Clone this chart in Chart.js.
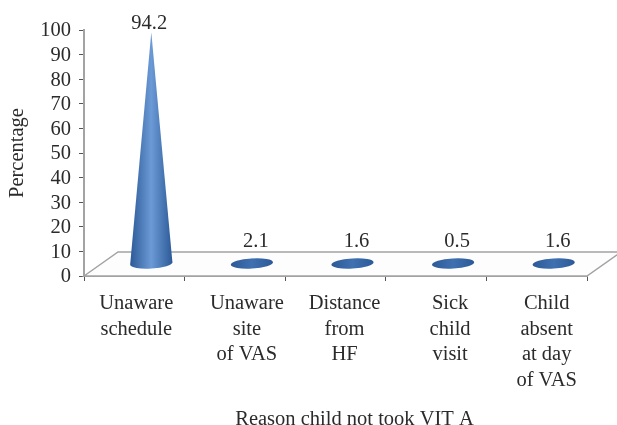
<!DOCTYPE html>
<html>
<head>
<meta charset="utf-8">
<style>
  html, body { margin: 0; padding: 0; background: #fff; }
  canvas { display: block; }
</style>
<script src="https://cdn.jsdelivr.net/npm/chart.js@4"></script>
</head>
<body>
<canvas id="grafico" width="617" height="425"></canvas>
<script>
const categorias = [
  ["Unaware", "schedule"],
  ["Unaware", "site", "of VAS"],
  ["Distance", "from", "HF"],
  ["Sick", "child", "visit"],
  ["Child", "absent", "at day", "of VAS"]
]
const valores = [94.2, 2.1, 1.6, 0.5, 1.6]
const rotulos = ["94.2", "2.1", "1.6", "0.5", "1.6"]

const fonte = "'Liberation Serif', serif"
const tamanho = 20.5
const corTexto = "#2b2b2b"
const corEixo = "#a3a3a3"

// floor depth of the fake 3D look, cones stand halfway into it
const fundoX = 34
const fundoY = 24

// the original labels are not centred on their categories
const ajusteRotulos = [2, 12, 9, 14, 10]
const ajusteTitulo = 19

const ajustes = {
  id: "ajustes",
  beforeDraw(chart) {
    const eixo = chart.scales.x
    eixo.getLabelItems(chart.chartArea).forEach((item, i) => {
      item.options.translation[0] += ajusteRotulos[i]
    })
    chart.scales.y.getLabelItems(chart.chartArea).forEach(item => {
      item.options.translation[1] += 1
    })

    const desenharTitulo = eixo.drawTitle
    eixo.drawTitle = function() {
      this.ctx.save()
      this.ctx.translate(ajusteTitulo, 0)
      desenharTitulo.call(this)
      this.ctx.restore()
    }
  }
}

const piso = {
  id: "piso",
  beforeDatasetsDraw(chart) {
    const { ctx, chartArea: a } = chart
    ctx.save()
    ctx.beginPath()
    ctx.moveTo(a.left, a.bottom)
    ctx.lineTo(a.left + fundoX, a.bottom - fundoY)
    ctx.lineTo(a.right + fundoX, a.bottom - fundoY)
    ctx.lineTo(a.right, a.bottom)
    ctx.closePath()
    ctx.fillStyle = "#fdfdfd"
    ctx.fill()
    ctx.strokeStyle = corEixo
    ctx.lineWidth = 1.5
    ctx.stroke()
    ctx.restore()
  }
}

const cones = {
  id: "cones",
  afterDatasetsDraw(chart) {
    const { ctx, chartArea: a } = chart
    const limite = a.bottom - fundoY - 10

    chart.getDatasetMeta(0).data.forEach((barra, i) => {
      const x = barra.x + fundoX / 2
      const topo = barra.y - fundoY / 2
      const base = barra.base - fundoY / 2
      const raio = barra.width / 2
      const pequeno = base - topo < 20

      const grad = ctx.createLinearGradient(x - raio, 0, x + raio, 0)
      grad.addColorStop(0, "#2c5a98")
      grad.addColorStop(0.5, pequeno ? "#3f70b0" : "#6b9ad6")
      grad.addColorStop(1, "#2c5a98")

      ctx.save()
      ctx.fillStyle = grad
      ctx.beginPath()
      ctx.ellipse(x, base, raio, 5, -0.06, 0, Math.PI * 2)
      ctx.fill()
      ctx.beginPath()
      ctx.moveTo(x - raio, base + 1)
      ctx.lineTo(x, topo)
      ctx.lineTo(x + raio, base - 1)
      ctx.closePath()
      ctx.fill()

      ctx.fillStyle = corTexto
      ctx.font = tamanho + "px " + fonte
      ctx.textAlign = "center"
      ctx.textBaseline = "middle"
      ctx.fillText(rotulos[i], x + (pequeno ? 4 : -2), Math.min(topo - 9, limite))
      ctx.restore()
    })
  }
}

new Chart(document.getElementById("grafico"), {
  type: "bar",
  plugins: [ajustes, piso, cones],
  data: {
    labels: categorias,
    datasets: [{
      data: valores,
      backgroundColor: "rgba(0,0,0,0)",
      categoryPercentage: 1,
      barPercentage: 0.42
    }]
  },
  options: {
    responsive: false,
    animation: false,
    layout: { padding: { top: 30, right: 30, left: 0, bottom: 0 } },
    plugins: {
      legend: { display: false },
      tooltip: { enabled: false }
    },
    scales: {
      x: {
        afterFit(s) { s.height = 149 },
        border: { color: corEixo, width: 2 },
        grid: { drawOnChartArea: false, tickLength: 5, color: "#555" },
        ticks: {
          color: corTexto,
          maxRotation: 0,
          autoSkip: false,
          padding: 10,
          font: { family: fonte, size: tamanho, lineHeight: 1.25 }
        },
        title: {
          display: true,
          text: "Reason child not took VIT A",
          color: corTexto,
          padding: { top: 0, bottom: -7 },
          font: { family: fonte, size: tamanho }
        }
      },
      y: {
        min: 0,
        max: 100,
        afterFit(s) { s.width = 84 },
        border: { color: corEixo, width: 2 },
        grid: { drawOnChartArea: false, tickLength: 5, color: "#555" },
        ticks: {
          stepSize: 10,
          autoSkip: false,
          color: corTexto,
          padding: 8,
          font: { family: fonte, size: tamanho }
        },
        title: {
          display: true,
          text: "Percentage",
          color: corTexto,
          padding: { top: 5, bottom: 0 },
          font: { family: fonte, size: tamanho }
        }
      }
    }
  }
})
</script>
</body>
</html>
